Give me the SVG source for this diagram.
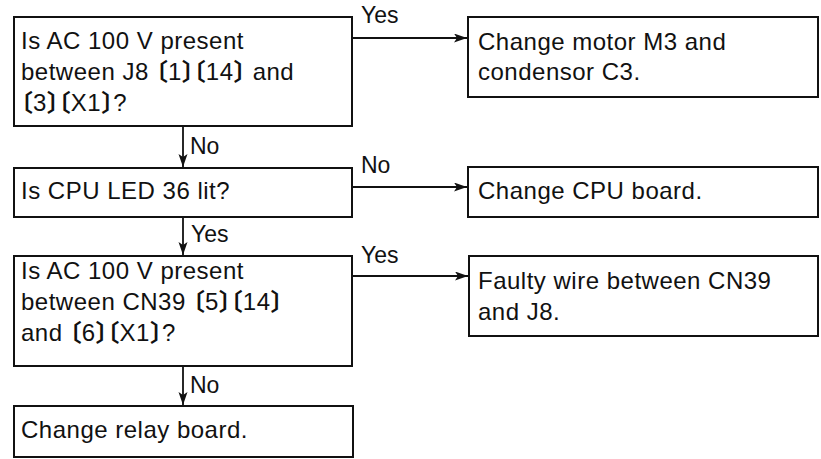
<svg xmlns="http://www.w3.org/2000/svg" width="821" height="459" viewBox="0 0 821 459">
<style>
.box{fill:#fff;stroke:#111;stroke-width:2}
.t{font-family:"Liberation Sans",Arial,"Noto Sans CJK JP",sans-serif;font-size:24px;fill:#111;letter-spacing:0.5px}
.b{font-family:"Noto Sans CJK JP","Liberation Sans",sans-serif;font-feature-settings:"halt" 1;letter-spacing:0;font-weight:700}
.lbl{font-family:"Liberation Sans",Arial,sans-serif;font-size:23px;fill:#111}
.c{stroke:#111;stroke-width:1.8;fill:none}
</style>
<defs>
<marker id="ah" markerUnits="userSpaceOnUse" markerWidth="14" markerHeight="10" refX="13" refY="4.5" orient="auto">
<path d="M0,0 L13,4.5 L0,9 L3,4.5 z" fill="#111"/>
</marker>
</defs>
<rect width="821" height="459" fill="#fff"/>
<g id="connectors">
<line class="c" x1="352" y1="38" x2="467" y2="38" marker-end="url(#ah)"/>
<line class="c" x1="352" y1="187" x2="467" y2="187" marker-end="url(#ah)"/>
<line class="c" x1="352" y1="276" x2="468" y2="276" marker-end="url(#ah)"/>
<line class="c" x1="183" y1="126" x2="183" y2="167" marker-end="url(#ah)"/>
<line class="c" x1="183" y1="217" x2="183" y2="255" marker-end="url(#ah)"/>
<line class="c" x1="183" y1="366" x2="183" y2="405" marker-end="url(#ah)"/>
<text class="lbl" x="361" y="23">Yes</text>
<text class="lbl" x="361" y="173">No</text>
<text class="lbl" x="361" y="263">Yes</text>
<text class="lbl" x="190" y="154">No</text>
<text class="lbl" x="191" y="242">Yes</text>
<text class="lbl" x="190" y="393">No</text>
</g>
<g id="q1">
<rect class="box" x="14" y="17" width="338" height="109"/>
<text class="t" x="21" y="49">Is AC 100 V present</text>
<text class="t" x="21" y="80">between J8 <tspan class="b">〔</tspan>1<tspan class="b">〕〔</tspan>14<tspan class="b">〕</tspan> and</text>
<text class="t" x="21" y="111"><tspan class="b">〔</tspan>3<tspan class="b">〕〔</tspan>X1<tspan class="b">〕</tspan>?</text>
</g>
<g id="q2">
<rect class="box" x="14" y="168" width="338" height="49"/>
<text class="t" x="21" y="199">Is CPU LED 36 lit?</text>
</g>
<g id="q3">
<rect class="box" x="14" y="256" width="338" height="110"/>
<text class="t" x="21" y="279">Is AC 100 V present</text>
<text class="t" x="21" y="310">between CN39 <tspan class="b">〔</tspan>5<tspan class="b">〕〔</tspan>14<tspan class="b">〕</tspan></text>
<text class="t" x="21" y="341">and <tspan class="b">〔</tspan>6<tspan class="b">〕〔</tspan>X1<tspan class="b">〕</tspan>?</text>
</g>
<g id="a4">
<rect class="box" x="14" y="406" width="339" height="51"/>
<text class="t" x="21" y="438">Change relay board.</text>
</g>
<g id="a1">
<rect class="box" x="468" y="17" width="350" height="80"/>
<text class="t" x="478" y="50">Change motor M3 and</text>
<text class="t" x="478" y="80">condensor C3.</text>
</g>
<g id="a2">
<rect class="box" x="468" y="167" width="350" height="50"/>
<text class="t" x="478" y="199">Change CPU board.</text>
</g>
<g id="a3">
<rect class="box" x="469" y="256" width="349" height="80"/>
<text class="t" x="478" y="289">Faulty wire between CN39</text>
<text class="t" x="478" y="320">and J8.</text>
</g>
</svg>
